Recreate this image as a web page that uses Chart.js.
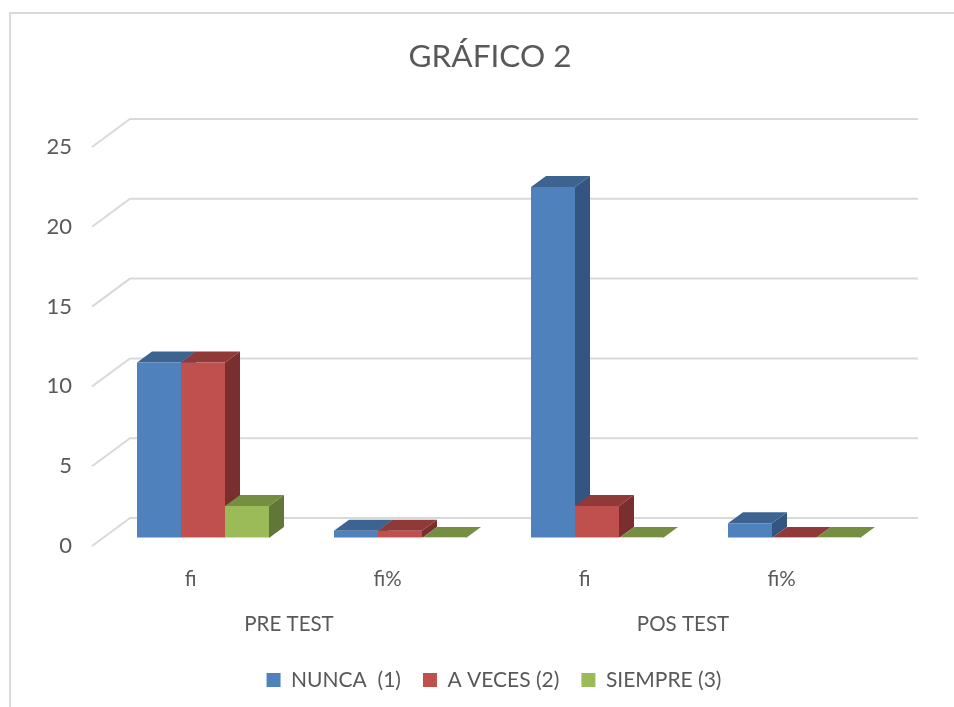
<!DOCTYPE html>
<html>
<head>
<meta charset="utf-8">
<title>GRÁFICO 2</title>
<script src="https://cdn.jsdelivr.net/npm/chart.js@4/dist/chart.umd.min.js"></script>
<style>
  html, body { margin: 0; padding: 0; width: 954px; height: 707px; overflow: hidden; background: #fff; }
  #frame { position: absolute; left: 9px; top: 12px; width: 1000px; height: 800px; border: 2px solid #d9d9d9; }
  #chart { position: absolute; left: 0; top: 0; }
</style>
</head>
<body>
<div id="frame"></div>
<canvas id="chart" width="980" height="707"></canvas>
<script>
  const categories = ['fi', 'fi%', 'fi', 'fi%'];
  const groups = ['PRE TEST', 'POS TEST'];
  const yTicks = [0, 5, 10, 15, 20, 25];
  const nunca = [11, 0.46, 22, 0.92];
  const aVeces = [11, 0.46, 2, 0];
  const siempre = [2, 0, 0, 0];
  const seriesNames = ['NUNCA  (1)', 'A VECES (2)', 'SIEMPRE (3)'];

  const TEXT = '#595959';
  const FONT = 'Lato, Carlito, "Open Sans", sans-serif';
  const GRID = '#d9d9d9';
  // top, side and bottom edge of each series
  const shades = [
    { top: '#3d6490', side: '#335580', edge: '#a3bfe0' },
    { top: '#8f3a38', side: '#7a2e2d', edge: '#e3adab' },
    { top: '#758e42', side: '#627637', edge: '#cfe0a8' }
  ];

  // --- fake 3D: back wall lines, bar depth ---
  const WALL_DX = 38, WALL_DY = -28;
  const BAR_SHIFT_X = 12.5, BAR_SHIFT_Y = -8;
  const BAR_DX = 15, BAR_DY = -11;
  const LEGEND_SHIFT = 4;

  function drawDepth(ctx, bar, shade) {
    const left = bar.x - bar.width / 2, right = bar.x + bar.width / 2;
    ctx.fillStyle = shade.side;
    ctx.beginPath();
    ctx.moveTo(right, bar.y);
    ctx.lineTo(right + BAR_DX, bar.y + BAR_DY);
    ctx.lineTo(right + BAR_DX, bar.base + BAR_DY);
    ctx.lineTo(right, bar.base);
    ctx.closePath();
    ctx.fill();
    ctx.fillStyle = shade.top;
    ctx.beginPath();
    ctx.moveTo(left, bar.y);
    ctx.lineTo(left + BAR_DX, bar.y + BAR_DY);
    ctx.lineTo(right + BAR_DX, bar.y + BAR_DY);
    ctx.lineTo(right, bar.y);
    ctx.closePath();
    ctx.fill();
  }

  const depthPlugin = {
    id: 'depth',
    afterLayout(chart) {
      // legend sits a little right of the title in the original
      chart.legend.left += LEGEND_SHIFT;
      chart.legend.right += LEGEND_SHIFT;
    },
    beforeDatasetsDraw(chart) {
      const { ctx, chartArea, scales } = chart;
      ctx.save();
      ctx.strokeStyle = GRID;
      ctx.lineWidth = 2;
      yTicks.forEach(v => {
        const y = scales.y.getPixelForValue(v);
        ctx.beginPath();
        ctx.moveTo(chartArea.left, y);
        ctx.lineTo(chartArea.left + WALL_DX, y + WALL_DY);
        ctx.lineTo(chartArea.right + WALL_DX, y + WALL_DY);
        ctx.stroke();
      });
      ctx.restore();

      // first series first, so each bar's front covers the side of the one before it
      ctx.save();
      ctx.translate(BAR_SHIFT_X, BAR_SHIFT_Y);
      chart.data.datasets.forEach((ds, i) => {
        const meta = chart.getDatasetMeta(i);
        meta.data.forEach(bar => drawDepth(ctx, bar, shades[i]));
        meta.controller.draw();
        ctx.fillStyle = shades[i].edge;
        meta.data.forEach(bar => ctx.fillRect(bar.x - bar.width / 2, bar.base - 1, bar.width, 1));
      });
      ctx.restore();
    },
    beforeDatasetDraw() {
      return false;
    }
  };

  const barDefaults = { categoryPercentage: 0.67, barPercentage: 1, borderWidth: 0 };

  new Chart(document.getElementById('chart').getContext('2d'), {
    type: 'bar',
    plugins: [depthPlugin],
    data: {
      labels: categories,
      datasets: [
        { label: seriesNames[0], data: nunca, backgroundColor: '#4f81bd', ...barDefaults },
        { label: seriesNames[1], data: aVeces, backgroundColor: '#c0504d', ...barDefaults },
        { label: seriesNames[2], data: siempre, backgroundColor: '#9bbb59', ...barDefaults }
      ]
    },
    options: {
      responsive: false,
      animation: false,
      layout: { padding: { left: 0, right: 0, top: 0, bottom: 6.5 } },
      plugins: {
        tooltip: { enabled: false },
        title: {
          display: true,
          text: 'GRÁFICO 2',
          color: TEXT,
          font: { family: FONT, size: 31.5, weight: 'normal' },
          padding: { top: 38, bottom: 71.2 }
        },
        legend: {
          position: 'bottom',
          labels: {
            color: TEXT,
            font: { family: FONT, size: 21 },
            boxWidth: 14,
            boxHeight: 14,
            padding: 22
          }
        }
      },
      scales: {
        x: {
          grid: { display: false },
          border: { display: false },
          ticks: { color: TEXT, font: { family: FONT, size: 20.5 }, padding: 13, autoSkip: false, maxRotation: 0 },
          afterFit: s => { s.height = 51; }
        },
        x2: {
          type: 'category',
          labels: groups,
          position: 'bottom',
          offset: true,
          grid: { display: false },
          border: { display: false },
          ticks: { color: TEXT, font: { family: FONT, size: 20.5 }, padding: 7, autoSkip: false, maxRotation: 0 },
          afterFit: s => { s.height = 50.5; }
        },
        y: {
          min: 0,
          max: 25,
          grid: { display: false },
          border: { display: false },
          ticks: { color: TEXT, font: { family: FONT, size: 22 }, stepSize: 5, padding: 12 },
          afterFit: s => { s.width = 92; }
        },
        // keeps room right of the plot for the back wall
        y2: {
          position: 'right',
          grid: { display: false },
          border: { display: false },
          ticks: { display: false },
          afterFit: s => { s.width = 100; }
        }
      }
    }
  });
</script>
</body>
</html>
